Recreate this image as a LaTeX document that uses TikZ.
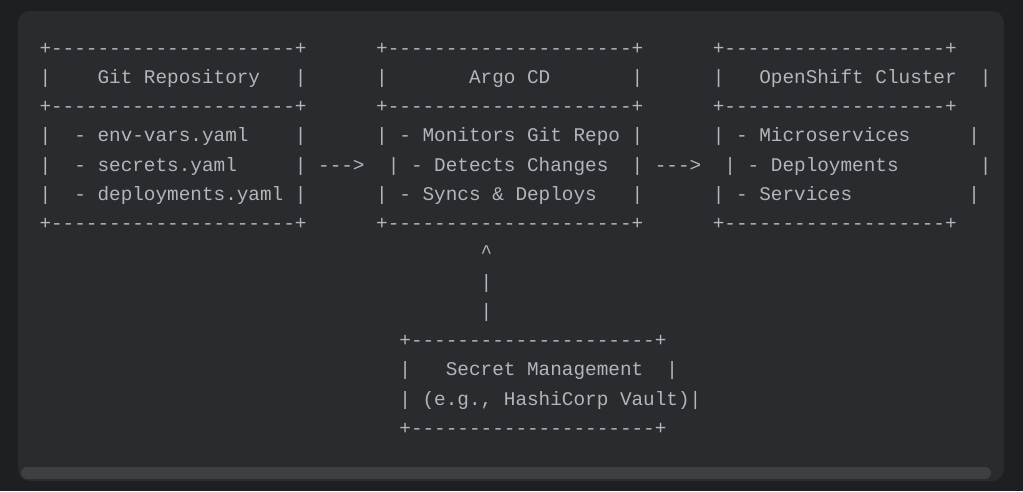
\documentclass[tikz,border=0pt]{standalone}
\usepackage{fontspec}
\setmonofont{Liberation Mono}
\definecolor{outerbg}{HTML}{1E1F21}
\definecolor{panelbg}{HTML}{2A2B2E}
\definecolor{scrollc}{HTML}{3E3F43}
\definecolor{codec}{HTML}{B2B5B9}
\newcommand\asc[4]{\node[txt] (#1) at ({39.5+#2*11.61},{83.3+(#3-2)*29.25}) {#4};}
\begin{document}
\begin{tikzpicture}[x=1pt,y=-1pt,
  txt/.style={anchor=base west,inner sep=0pt,outer sep=0pt,text=codec,
    font=\ttfamily\fontsize{19.35}{23}\selectfont}]
\fill[outerbg] (0,0) rectangle (1023,491);
\useasboundingbox (0,0) rectangle (1023,491);
\fill[panelbg,rounded corners=12pt] (18,11) rectangle (1004,481);
\fill[scrollc,rounded corners=6pt] (21,467) rectangle (991,479);
% row 1
\asc{t1}{0}{1}{+---------------------+}
\asc{t2}{29}{1}{+---------------------+}
\asc{t3}{58}{1}{+-------------------+}
% row 2
\asc{a1}{0}{2}{|}\asc{a2}{5}{2}{Git Repository}\asc{a3}{22}{2}{|}
\asc{b1}{29}{2}{|}\asc{b2}{37}{2}{Argo CD}\asc{b3}{51}{2}{|}
\asc{c1}{58}{2}{|}\asc{c2}{62}{2}{OpenShift Cluster}\asc{c3}{81}{2}{|}
% row 3
\asc{m1}{0}{3}{+---------------------+}
\asc{m2}{29}{3}{+---------------------+}
\asc{m3}{58}{3}{+-------------------+}
% row 4
\asc{d1}{0}{4}{|}\asc{d2}{3}{4}{- env-vars.yaml}\asc{d3}{22}{4}{|}
\asc{e1}{29}{4}{|}\asc{e2}{31}{4}{- Monitors Git Repo}\asc{e3}{51}{4}{|}
\asc{f1}{58}{4}{|}\asc{f2}{60}{4}{- Microservices}\asc{f3}{80}{4}{|}
% row 5
\asc{g1}{0}{5}{|}\asc{g2}{3}{5}{- secrets.yaml}\asc{g3}{22}{5}{|}
\asc{arr1}{24}{5}{--->}
\asc{h1}{30}{5}{|}\asc{h2}{32}{5}{- Detects Changes}\asc{h3}{51}{5}{|}
\asc{arr2}{53}{5}{--->}
\asc{i1}{59}{5}{|}\asc{i2}{61}{5}{- Deployments}\asc{i3}{81}{5}{|}
% row 6
\asc{j1}{0}{6}{|}\asc{j2}{3}{6}{- deployments.yaml}\asc{j3}{22}{6}{|}
\asc{k1}{29}{6}{|}\asc{k2}{31}{6}{- Syncs \& Deploys}\asc{k3}{51}{6}{|}
\asc{l1}{58}{6}{|}\asc{l2}{60}{6}{- Services}\asc{l3}{80}{6}{|}
% row 7
\asc{bt1}{0}{7}{+---------------------+}
\asc{bt2}{29}{7}{+---------------------+}
\asc{bt3}{58}{7}{+-------------------+}
% vertical arrow
\asc{up1}{38}{8}{\textasciicircum}
\asc{up2}{38}{9}{|}
\asc{up3}{38}{10}{|}
% secret management
\asc{s1}{31}{11}{+---------------------+}
\asc{s2}{31}{12}{|}\asc{s3}{35}{12}{Secret Management}\asc{s4}{54}{12}{|}
\asc{s5}{31}{13}{|}\asc{s6}{33}{13}{(e.g., HashiCorp Vault)}\asc{s7}{56}{13}{|}
\asc{s8}{31}{14}{+---------------------+}
\end{tikzpicture}
\end{document}
